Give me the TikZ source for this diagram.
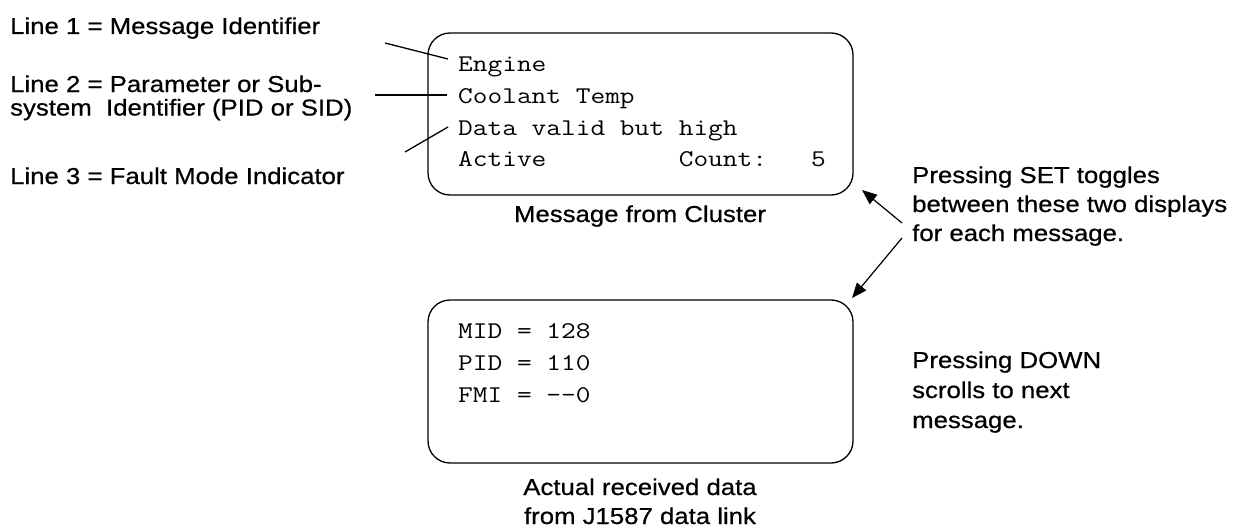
\documentclass[tikz,border=0pt]{standalone}
\usepackage{fontspec}
\setmainfont[FakeStretch=1.12,FakeBold=0.6]{Liberation Sans}
\newfontfamily\monofont[FakeStretch=1.19]{Latin Modern Mono}
\usetikzlibrary{arrows.meta}
\begin{document}
\begin{tikzpicture}[x=1pt,y=-1pt,
  lbl/.style={font=\fontsize{23}{29}\selectfont, inner sep=0pt, anchor=base west, align=left},
  captxt/.style={font=\fontsize{23}{29}\selectfont, inner sep=0pt, anchor=base, align=center},
  mono/.style={font=\monofont\fontsize{24}{31}\selectfont, inner sep=0pt, anchor=base west},
  screen/.style={draw, line width=1.3pt, rounded corners=22pt},
  leader/.style={line width=1.3pt},
  arr/.style={line width=1.2pt, -{Triangle[length=15pt,width=12pt]}}]
\useasboundingbox (0,0) rectangle (1237,527);
% boxes
\draw[screen] (428,33) rectangle (853,195);
\draw[screen] (428,300) rectangle (853,463);
% top screen text
\node[mono] (t1) at (458,72) {Engine};
\node[mono] (t2) at (458,103.5) {Coolant Temp};
\node[mono] (t3) at (458,135) {Data valid but high};
\node[mono] (t4) at (458,166.5) {Active\ \ \ \ \ \ \ \ \ Count:\ \ \ 5};
% bottom screen text
\node[mono] (b1) at (458,338) {MID = 128};
\node[mono] (b2) at (458,370) {PID = 110};
\node[mono] (b3) at (458,402) {FMI = -{}-0};
% left labels (base anchor = last line baseline)
\node[lbl] (l1) at (10,34) {Line 1 = Message Identifier};
\node[lbl, font=\fontsize{23}{23.5}\selectfont] (l2) at (10,115.5) {Line 2 = Parameter or Sub-\\system \ Identifier (PID or SID)};
\node[lbl] (l3) at (10,184) {Line 3 = Fault Mode Indicator};
% leaders
\coordinate (a1) at (385,43); \coordinate (e1) at (448,59);
\coordinate (a2) at (375,95); \coordinate (e2) at (447,95);
\coordinate (a3) at (405,152); \coordinate (e3) at (448,127);
\draw[leader] (a1) -- (e1);
\draw[leader] (a2) -- (e2);
\draw[leader] (a3) -- (e3);
% captions
\node[captxt] (c1) at (640,222) {Message from Cluster};
\node[captxt] (c2) at (640,524) {Actual received data\\from J1587 data link};
% right texts
\node[lbl] (r1) at (912,241) {Pressing SET toggles\\between these two displays\\for each message.};
\node[lbl, font=\fontsize{23}{30}\selectfont] (r2) at (912,428) {Pressing DOWN\\scrolls to next\\message.};
\coordinate (s1) at (902,223); \coordinate (d1) at (862,190);
\coordinate (s2) at (902,238); \coordinate (d2) at (852,298);
\draw[arr] (s1) -- (d1);
\draw[arr] (s2) -- (d2);
\end{tikzpicture}
\end{document}
